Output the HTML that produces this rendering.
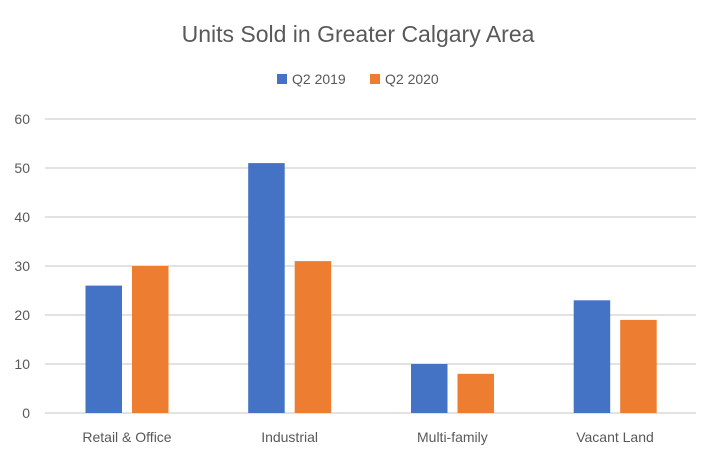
<!DOCTYPE html>
<html><head><style>body{margin:0;background:#fff}</style></head><body>
<svg width="716" height="458" xmlns="http://www.w3.org/2000/svg" font-family="Liberation Sans, sans-serif">
<rect width="716" height="458" fill="#fff"/>
<text x="358" y="42" font-size="23" fill="#595959" text-anchor="middle">Units Sold in Greater Calgary Area</text>
<rect x="277" y="74" width="10" height="10" fill="#4472c4"/>
<text x="292" y="84" font-size="14" fill="#595959">Q2 2019</text>
<rect x="370" y="74" width="10" height="10" fill="#ed7d31"/>
<text x="385" y="84" font-size="14" fill="#595959">Q2 2020</text>
<g stroke="#d9d9d9" stroke-width="1.5">
<line x1="45" x2="696" y1="119" y2="119"/><line x1="45" x2="696" y1="168" y2="168"/>
<line x1="45" x2="696" y1="217" y2="217"/><line x1="45" x2="696" y1="266" y2="266"/>
<line x1="45" x2="696" y1="315" y2="315"/><line x1="45" x2="696" y1="364" y2="364"/>
<line x1="45" x2="696" y1="413" y2="413"/>
</g>
<g font-size="14" fill="#595959" text-anchor="end">
<text x="30" y="124">60</text><text x="30" y="173">50</text><text x="30" y="222">40</text>
<text x="30" y="271">30</text><text x="30" y="320">20</text><text x="30" y="369">10</text><text x="30" y="418">0</text>
</g>
<g fill="#4472c4">
<rect x="85.5" y="285.6" width="36.5" height="127.4"/>
<rect x="248.2" y="163.1" width="36.5" height="249.9"/>
<rect x="411" y="364" width="36.5" height="49"/>
<rect x="573.7" y="300.3" width="36.5" height="112.7"/>
</g>
<g fill="#ed7d31">
<rect x="132" y="266" width="36.5" height="147"/>
<rect x="294.7" y="261.1" width="36.5" height="151.9"/>
<rect x="457.5" y="373.8" width="36.5" height="39.2"/>
<rect x="620.2" y="319.9" width="36.5" height="93.1"/>
</g>
<g font-size="14" fill="#595959" text-anchor="middle">
<text x="127" y="442">Retail &amp; Office</text>
<text x="289.6" y="442">Industrial</text>
<text x="452.4" y="442">Multi-family</text>
<text x="615" y="442">Vacant Land</text>
</g>
</svg>
</body></html>
